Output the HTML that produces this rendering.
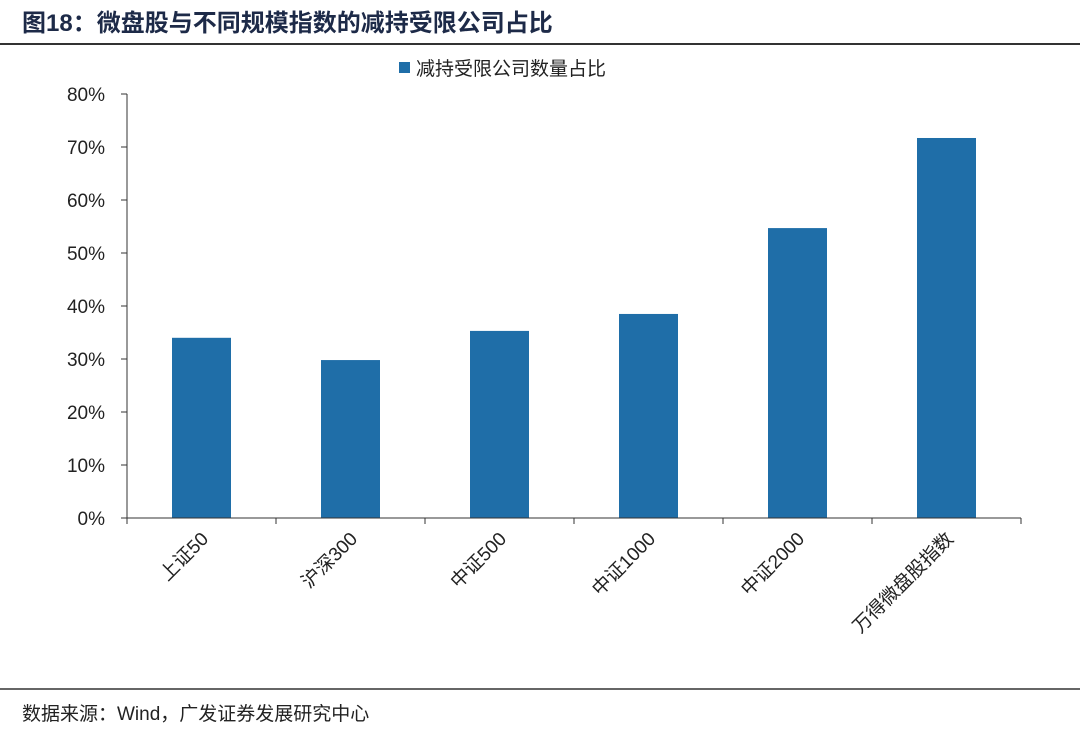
<!DOCTYPE html>
<html><head><meta charset="utf-8"><style>
body{margin:0;background:#fff;width:1080px;height:740px;overflow:hidden}
svg{display:block;font-family:"Liberation Sans","Noto Sans CJK SC",sans-serif}
</style></head><body>
<svg id="chart" width="1080" height="740" viewBox="0 0 1080 740">
<text x="22" y="31" font-size="24" font-weight="bold" fill="#1d2a48">图18：微盘股与不同规模指数的减持受限公司占比</text>
<line x1="0" y1="44" x2="1080" y2="44" stroke="#333" stroke-width="2"/>
<rect x="399" y="62" width="11" height="11" fill="#1f6ea8"/>
<text x="416" y="75" font-size="19" fill="#222">减持受限公司数量占比</text>
<g id="plot"></g>
<line x1="0" y1="689" x2="1080" y2="689" stroke="#333" stroke-width="1.5"/>
<text x="22" y="720" font-size="19" fill="#222">数据来源：Wind，广发证券发展研究中心</text>
</svg>
<script>
const categories=["上证50","沪深300","中证500","中证1000","中证2000","万得微盘股指数"];
const values=[34.0,29.8,35.3,38.5,54.7,71.7];
const yTicks=[0,10,20,30,40,50,60,70,80];
const x0=127,band=149,y0=518,pxPer=5.3,barW=59;
const ns="http://www.w3.org/2000/svg",g=document.getElementById('plot');
function el(t,a){const e=document.createElementNS(ns,t);for(const k in a)e.setAttribute(k,a[k]);g.appendChild(e);return e;}
const yS=v=>y0-v*pxPer, xC=i=>x0+band*(i+0.5);
yTicks.forEach(t=>{
 const l=el('line',{x1:x0-6,x2:x0,y1:yS(t),y2:yS(t),stroke:'#333'});
 
 const tx=el('text',{x:x0-22,y:yS(t)+7,'font-size':19,'text-anchor':'end',fill:'#222'});tx.textContent=t+'%';
 
});
const ya=el('line',{x1:x0,x2:x0,y1:yS(80),y2:y0,stroke:'#333'});

values.forEach((v,i)=>{
 const r=el('rect',{x:xC(i)-barW/2,y:yS(v),width:barW,height:v*pxPer,fill:'#1f6ea8'});
 
});
const xa=el('line',{x1:x0,x2:x0+band*categories.length,y1:y0,y2:y0,stroke:'#333'});

for(let i=0;i<=categories.length;i++){
 const t=el('line',{x1:x0+band*i,x2:x0+band*i,y1:y0,y2:y0+6,stroke:'#333'});
 
}
categories.forEach((c,i)=>{
 const x=xC(i)+8,y=y0+22;
 const t=el('text',{x:x,y:y,'font-size':19,'text-anchor':'end',fill:'#222',transform:`rotate(-45 ${x} ${y})`});
 t.textContent=c;
 
});
</script>
</body></html>
